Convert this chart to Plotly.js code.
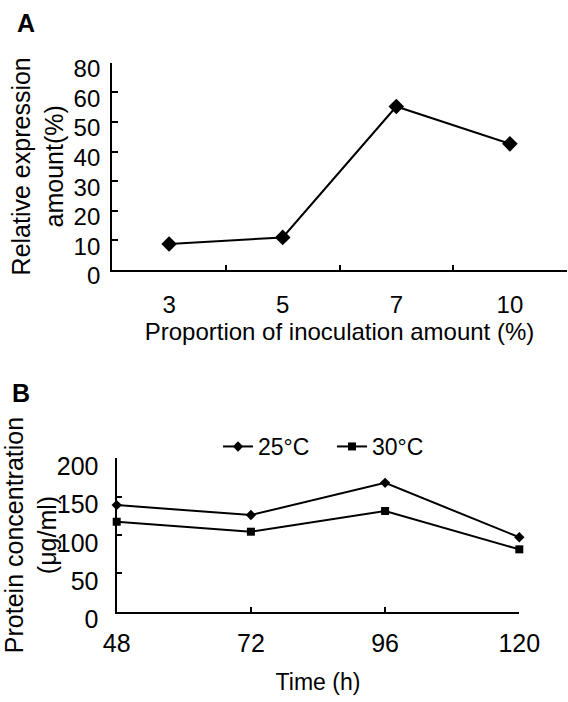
<!DOCTYPE html>
<html><head><meta charset="utf-8">
<script src="https://cdn.plot.ly/plotly-3.0.1.min.js"></script>
<style>html,body{margin:0;padding:0;background:#fff}#plot{width:568px;height:702px}</style>
</head><body><div id="plot"></div>
<script>
// Panel A
const inocCategories = ['3', '5', '7', '10'];
const relExpression = [8.8, 11.0, 55.2, 42.6];
const aYTickVals = [0, 10, 20, 30, 40, 50, 60, 70];
const aYTickText = ['0', '10', '20', '30', '40', '50', '60', '80'];
// Panel B
const timeHours = [48, 72, 96, 120];
const protein25 = [139, 126, 168, 97];
const protein30 = [117.3, 104.3, 131.3, 81.3];
const bYTickVals = [0, 50, 100, 150, 200];

const FONT = 'Liberation Sans, Arial, sans-serif';
const W = 568, H = 702;
const px = v => v / W, py = v => 1 - v / H;

const traces = [
  {x: inocCategories, y: relExpression, xaxis: 'x', yaxis: 'y', type: 'scatter', mode: 'lines+markers',
   line: {color: '#000', width: 2}, marker: {symbol: 'diamond', size: 12, color: '#000'},
   showlegend: false, cliponaxis: false},
  {x: timeHours, y: protein25, xaxis: 'x2', yaxis: 'y2', type: 'scatter', mode: 'lines+markers',
   name: '25°C', line: {color: '#000', width: 2}, marker: {symbol: 'diamond', size: 8, color: '#000'}, cliponaxis: false},
  {x: timeHours, y: protein30, xaxis: 'x2', yaxis: 'y2', type: 'scatter', mode: 'lines+markers',
   name: '30°C', line: {color: '#000', width: 2}, marker: {symbol: 'square', size: 8, color: '#000'}, cliponaxis: false}
];

const axCommon = {showgrid: false, zeroline: false, showline: true, linecolor: '#000', linewidth: 2.2,
  ticks: 'inside', tickcolor: '#000', tickwidth: 2, fixedrange: true};

const layout = {
  width: W, height: H, margin: {l: 0, r: 0, t: 0, b: 0},
  paper_bgcolor: '#fff', plot_bgcolor: '#fff',
  font: {family: FONT, color: '#000'},
  xaxis: Object.assign({}, axCommon, {
    domain: [px(112.3), px(566.7)], anchor: 'y', type: 'category', range: [-0.5, 3.5],
    tickson: 'boundaries', ticklen: 5, tickfont: {size: 24}, ticklabelstandoff: 12,
    title: {text: 'Proportion of inoculation amount (%)', font: {size: 24}, standoff: 2}
  }),
  yaxis: Object.assign({}, axCommon, {
    domain: [py(270), py(62.7)], anchor: 'x', range: [0, 70],
    tickvals: aYTickVals, ticktext: aYTickText, ticklen: 6, tickfont: {size: 24},
    ticklabelstandoff: 5, ticklabelshift: 6,
    title: {text: 'Relative expression<br>amount(%)', font: {size: 25}, standoff: 3}
  }),
  xaxis2: Object.assign({}, axCommon, {
    domain: [px(116.7), px(519.3)], anchor: 'y2', range: [48, 120],
    tickvals: timeHours, ticklen: 5, tickfont: {size: 25}, ticklabelstandoff: 8,
    title: {text: 'Time (h)', font: {size: 23}, standoff: 18}
  }),
  yaxis2: Object.assign({}, axCommon, {
    domain: [py(611.7), py(458.3)], anchor: 'x2', range: [0, 200],
    tickvals: bYTickVals, ticklen: 5, tickfont: {size: 25},
    ticklabelstandoff: 11, ticklabelshift: 8,
    title: {text: 'Protein concentration<br>(μg/ml)', font: {size: 25}, standoff: 1}
  }),
  showlegend: true,
  legend: {orientation: 'h', x: px(218), y: py(425), xanchor: 'left', yanchor: 'top',
    font: {size: 23, family: FONT}, bgcolor: 'rgba(0,0,0,0)', tracegroupgap: 0, entrywidth: 69},
  annotations: [
    {text: '<b>A</b>', x: px(26), y: py(23), xref: 'paper', yref: 'paper', xanchor: 'center', yanchor: 'middle',
     showarrow: false, font: {size: 25, family: FONT}},
    {text: '<b>B</b>', x: px(21), y: py(393), xref: 'paper', yref: 'paper', xanchor: 'center', yanchor: 'middle',
     showarrow: false, font: {size: 25, family: FONT}}
  ]
};

Plotly.newPlot('plot', traces, layout, {displayModeBar: false, staticPlot: true});
</script></body></html>
